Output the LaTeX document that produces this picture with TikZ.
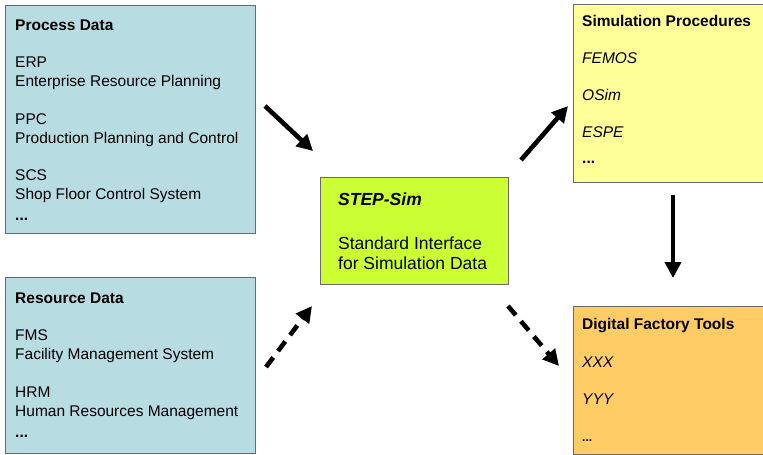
\documentclass[tikz,border=0pt]{standalone}
\usepackage{fontspec}
\setmainfont{Liberation Sans}
\usetikzlibrary{arrows.meta}
\definecolor{procblue}{HTML}{B7DDE3}
\definecolor{simyellow}{HTML}{FFFF99}
\definecolor{dforange}{HTML}{FFCC66}
\definecolor{stepgreen}{HTML}{CCFF33}
\definecolor{boxline}{HTML}{6A6A6A}
\tikzset{
  box/.style={draw=boxline, line width=1.1pt, anchor=north west, inner sep=0pt},
  txt/.style={anchor=base west, inner sep=0pt, font=\fontsize{15.5}{18}\selectfont},
  ttl/.style={txt, font=\fontsize{15.5}{18}\selectfont\bfseries},
  itxt/.style={txt, font=\fontsize{15.5}{18}\selectfont\itshape},
  btxt/.style={txt, font=\fontsize{17.5}{21}\selectfont},
  solidarrow/.style={line width=4.6pt, -{Triangle[length=16pt,width=16pt]}},
  dasharrow/.style={solidarrow, dash pattern=on 12pt off 8pt},
}
\begin{document}
\begin{tikzpicture}[x=1pt,y=-1pt]
\clip (0,0) rectangle (763,455);
\fill[white] (0,0) rectangle (763,455);
% boxes
\node[box, fill=procblue, minimum width=250pt, minimum height=228pt] (proc) at (5,5) {};
\node[box, fill=procblue, minimum width=250pt, minimum height=176pt] (res) at (5,277) {};
\node[box, fill=simyellow, minimum width=200pt, minimum height=178pt] (sim) at (573,4) {};
\node[box, fill=dforange, minimum width=200pt, minimum height=148pt] (dft) at (573,306) {};
\node[box, fill=stepgreen, minimum width=188pt, minimum height=107pt] (step) at (320,177) {};
% Process data text
\node[ttl] (p0) at (15,30) {Process Data};
\node[txt] (p1) at (15,67) {ERP};
\node[txt] (p2) at (15,86) {Enterprise Resource Planning};
\node[txt] (p3) at (15,124) {PPC};
\node[txt] (p4) at (15,143) {Production Planning and Control};
\node[txt] (p5) at (15,180) {SCS};
\node[txt] (p6) at (15,199) {Shop Floor Control System};
\node[ttl] (p7) at (15,220) {...};
% Resource data text
\node[ttl] (r0) at (15,303) {Resource Data};
\node[txt] (r1) at (15,340) {FMS};
\node[txt] (r2) at (15,359) {Facility Management System};
\node[txt] (r3) at (15,397) {HRM};
\node[txt] (r4) at (15,416) {Human Resources Management};
\node[ttl] (r5) at (15,437) {...};
% Simulation procedures
\node[ttl] (s0) at (582,27) {Simulation Procedures};
\node[itxt] (s1) at (582,63) {FEMOS};
\node[itxt] (s2) at (582,100) {OSim};
\node[itxt] (s3) at (582,137) {ESPE};
\node[ttl] (s4) at (582,163) {...};
% Digital factory tools
\node[ttl] (d0) at (582,329) {Digital Factory Tools};
\node[itxt] (d1) at (582,367) {XXX};
\node[itxt] (d2) at (582,404) {YYY};
\node[txt, font=\fontsize{12}{14}\selectfont\bfseries] (d3) at (582,441) {...};
% STEP-Sim
\node[btxt, font=\fontsize{17.5}{21}\selectfont\bfseries\itshape] (t0) at (338,205) {STEP-Sim};
\node[btxt] (t1) at (338,249) {Standard Interface};
\node[btxt] (t2) at (338,269) {for Simulation Data};
% arrow end points
\coordinate (a1s) at (265,106);
\coordinate (a1e) at (313,151);
\coordinate (a2s) at (521,160);
\coordinate (a2e) at (568,106);
\coordinate (a3s) at (266,367);
\coordinate (a3e) at (312,306);
\coordinate (a4s) at (508,306);
\coordinate (a4e) at (559,366);
\coordinate (a5s) at (673,195);
\coordinate (a5e) at (673,278);
\draw[solidarrow] (a1s) -- (a1e);
\draw[solidarrow] (a2s) -- (a2e);
\draw[dasharrow] (a3s) -- (a3e);
\draw[dasharrow] (a4s) -- (a4e);
\draw[solidarrow] (a5s) -- (a5e);
\end{tikzpicture}
\end{document}
